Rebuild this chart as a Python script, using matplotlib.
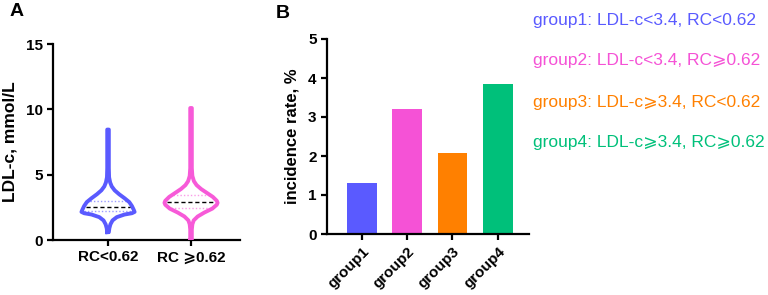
import numpy as np
import matplotlib
matplotlib.use("Agg")
from matplotlib import pyplot as plt

plt.rcParams['font.family'] = ['Liberation Sans', 'DejaVu Sans', 'Noto Sans CJK SC']

# panel A: violin outlines (value, relative half-width)
rc_groups = ["RC<0.62", "RC \u2A7E0.62"]
violin_colors = ["#5a5aff", "#f75ad8"]

blue_y = [0.6, 0.9, 1.2, 1.5, 1.75, 1.95, 2.05, 2.15, 2.3, 2.6, 2.9, 3.2, 3.5, 3.8, 4.1, 4.4, 4.8, 5.5, 8.45]
blue_w = [0.03, 0.05, 0.09, 0.17, 0.33, 0.62, 0.9, 1.0, 0.97, 0.9, 0.8, 0.62, 0.42, 0.25, 0.14, 0.08, 0.04, 0.03, 0.03]
blue_q = [2.22, 2.55, 3.0]

pink_y = [0.0, 0.8, 1.2, 1.5, 1.8, 2.1, 2.4, 2.7, 2.85, 3.0, 3.3, 3.6, 3.9, 4.2, 4.5, 4.9, 5.5, 10.1]
pink_w = [0.03, 0.03, 0.05, 0.1, 0.25, 0.5, 0.8, 0.97, 1.0, 0.97, 0.82, 0.6, 0.38, 0.21, 0.11, 0.05, 0.03, 0.03]
pink_q = [2.46, 2.88, 3.42]

# panel B
groups = ["group1", "group2", "group3", "group4"]
rates = [1.31, 3.2, 2.08, 3.85]
bar_colors = ["#5a5aff", "#f552d6", "#ff8000", "#00c07a"]
legend_text = ["group1: LDL-c<3.4, RC<0.62",
               "group2: LDL-c<3.4, RC\u2A7E0.62",
               "group3: LDL-c\u2A7E3.4, RC<0.62",
               "group4: LDL-c\u2A7E3.4, RC\u2A7E0.62"]

fig = plt.figure(figsize=(7.68, 2.95), dpi=100)

def style_axes(ax):
    for s in ["top", "right"]:
        ax.spines[s].set_visible(False)
    for s in ["left", "bottom"]:
        ax.spines[s].set_linewidth(1.6)
    ax.tick_params(width=1.6, length=4, labelsize=11)
    for lab in ax.get_yticklabels() + ax.get_xticklabels():
        lab.set_fontweight("bold")

axA = fig.add_axes([53/768, 1-240/295, 187/768, 196/295])
half = 0.32
for i, (ys, ws, qs, c) in enumerate([(blue_y, blue_w, blue_q, violin_colors[0]),
                                      (pink_y, pink_w, pink_q, violin_colors[1])]):
    ys = np.array(ys)
    ws = np.array(ws) * half
    xs = np.concatenate([i - ws, (i + ws)[::-1], [i - ws[0]]])
    yy = np.concatenate([ys, ys[::-1], [ys[0]]])
    axA.fill(xs, yy, color="white", zorder=2)
    axA.plot(xs, yy, color=c, lw=2.8, zorder=3, solid_joinstyle="round")
    for k, q in enumerate(qs):
        w = np.interp(q, ys, ws) * 0.92
        if k == 1:
            axA.plot([i - w, i + w], [q, q], color="black", lw=1.0, ls=(0, (3, 2)), zorder=4)
        else:
            axA.plot([i - w, i + w], [q, q], color=c, lw=1.0, ls=(0, (1, 1.5)), alpha=0.6, zorder=4)
axA.set_xlim(-0.663, 1.59)
axA.set_ylim(0, 15)
axA.set_yticks([0, 5, 10, 15])
axA.set_xticks([0, 1])
axA.set_xticklabels(rc_groups)
axA.set_ylabel("LDL-c, mmol/L", fontsize=12.5, fontweight="bold", labelpad=6)
style_axes(axA)
fig.text(10/768, 1-12/295, "A", fontsize=14, fontweight="bold", va="center")

axB = fig.add_axes([327/768, 1-234/295, 202/768, 195/295])
x = np.arange(len(groups))
axB.bar(x, rates, width=0.66, color=bar_colors, zorder=2)
axB.set_xlim(-0.77, 3.69)
axB.set_ylim(0, 5)
axB.set_yticks([0, 1, 2, 3, 4, 5])
axB.set_xticks(x)
axB.set_xticklabels(groups, rotation=45, ha="right", rotation_mode="anchor")
axB.set_ylabel("incidence rate, %", fontsize=12, fontweight="bold", labelpad=6)
style_axes(axB)
fig.text(276/768, 1-14/295, "B", fontsize=14, fontweight="bold", va="center")

for k, (t, c) in enumerate(zip(legend_text, bar_colors)):
    fig.text(533/768, 1-(20 + 41*k)/295, t, color=c, fontsize=12.5, va="center")

fig.savefig("out.png", dpi=100)
